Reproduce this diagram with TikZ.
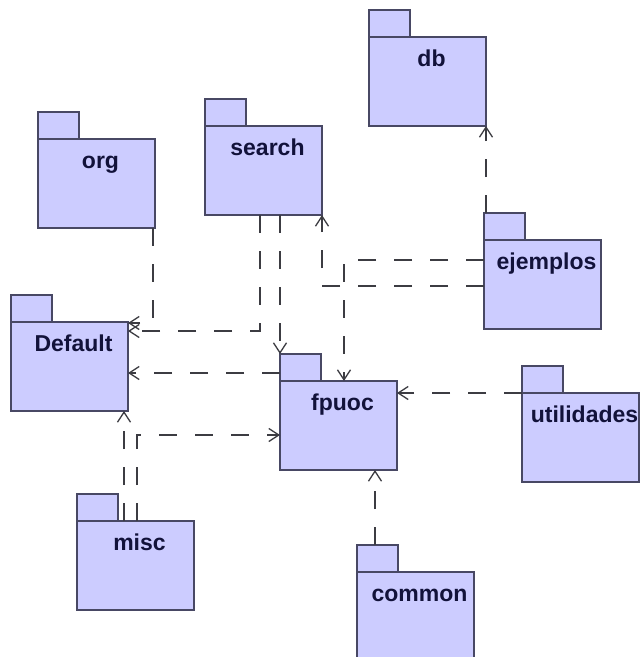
\documentclass[tikz,border=0pt]{standalone}
\usepackage{fontspec}
\setmainfont{Liberation Sans}
\usetikzlibrary{arrows.meta}

\definecolor{pkgfill}{RGB}{204,204,255}
\definecolor{pkgline}{RGB}{72,72,100}
\definecolor{pkgtext}{RGB}{18,18,58}
\definecolor{depline}{RGB}{60,60,66}

\tikzset{
  pkgbody/.style={draw=pkgline, fill=pkgfill, line width=1.4pt,
    minimum width=117pt, minimum height=89pt, inner sep=0pt, outer sep=0pt},
  pkgtab/.style={draw=pkgline, fill=pkgfill, line width=1.4pt,
    minimum width=41pt, minimum height=27pt, inner sep=0pt, outer sep=0pt},
  pkglabel/.style={text=pkgtext, inner sep=0pt, anchor=base,
    font=\bfseries\fontsize{23}{23}\selectfont},
  dep/.style={draw=depline, line width=1.3pt, dash pattern=on 18pt off 18pt,
    -{Straight Barb[length=10pt,width=13pt,line width=1.3pt]}},
}

% UML package: #1 name, #2 left edge, #3 top edge of body, #4 label
\newcommand{\umlpkg}[4]{%
  \node[pkgtab, anchor=south west] (#1-tab) at (#2,#3) {};
  \node[pkgbody, anchor=north west] (#1) at (#2,#3) {};
  \node[pkglabel] (#1-lbl) at ([xshift=4pt,yshift=-29pt]#1.north) {#4};
}

\begin{document}
\begin{tikzpicture}[x=1pt, y=-1pt]
  \useasboundingbox (0,0) rectangle (640,657);
  \clip (0,0) rectangle (640,657);
  \fill[white] (0,0) rectangle (640,657);

  % packages
  \umlpkg{org}{38}{139}{org}
  \umlpkg{search}{205}{126}{search}
  \umlpkg{Default}{11}{322}{Default}
  \umlpkg{db}{369}{37}{db}
  \umlpkg{ejemplos}{484}{240}{ejemplos}
  \umlpkg{fpuoc}{280}{381}{fpuoc}
  \umlpkg{utilidades}{522}{393}{utilidades}
  \umlpkg{common}{357}{572}{common}
  \umlpkg{misc}{77}{521}{misc}

  % connector end points
  \coordinate (o1) at ([xshift=-2pt]org.south east);
  \coordinate (s1) at ([xshift=55pt]search.south west);
  \coordinate (s2) at ([xshift=75pt]search.south west);
  \coordinate (f1) at ([yshift=-19pt]fpuoc-tab.north west);
  \coordinate (e1) at ([yshift=-46pt]ejemplos.north west);
  \coordinate (e2) at ([yshift=-20pt]ejemplos.north west);
  \coordinate (e3) at ([xshift=2pt]ejemplos-tab.north west);
  \coordinate (fp) at ([xshift=64pt]fpuoc.north west);
  \coordinate (c1) at ([xshift=18pt]common-tab.north west);
  \coordinate (m1) at ([xshift=47pt]misc.north west);
  \coordinate (m2) at ([xshift=60pt]misc.north west);
  \coordinate (fm) at ([yshift=-54pt]fpuoc.north west);

  % dependencies
  \draw[dep] (o1) |- ([yshift=-1pt]Default.north east);
  \draw[dep] (s1) |- ([yshift=-9pt]Default.north east);
  \draw[dep] (s2) -- (fpuoc-tab.north west);
  \draw[dep] (f1) -- (f1 -| Default.east);
  \draw[dep] (e1) -| (search.south east);
  \draw[dep] (e2) -| (fp);
  \draw[dep] (e3) -- (e3 |- db.south);
  \draw[dep] (utilidades.north west) -- (utilidades.north west -| fpuoc.east);
  \draw[dep] (c1) -- (c1 |- fpuoc.south);
  \draw[dep] (m1) -- (m1 |- Default.south);
  \draw[dep] (m2) |- (fm);
\end{tikzpicture}
\end{document}
